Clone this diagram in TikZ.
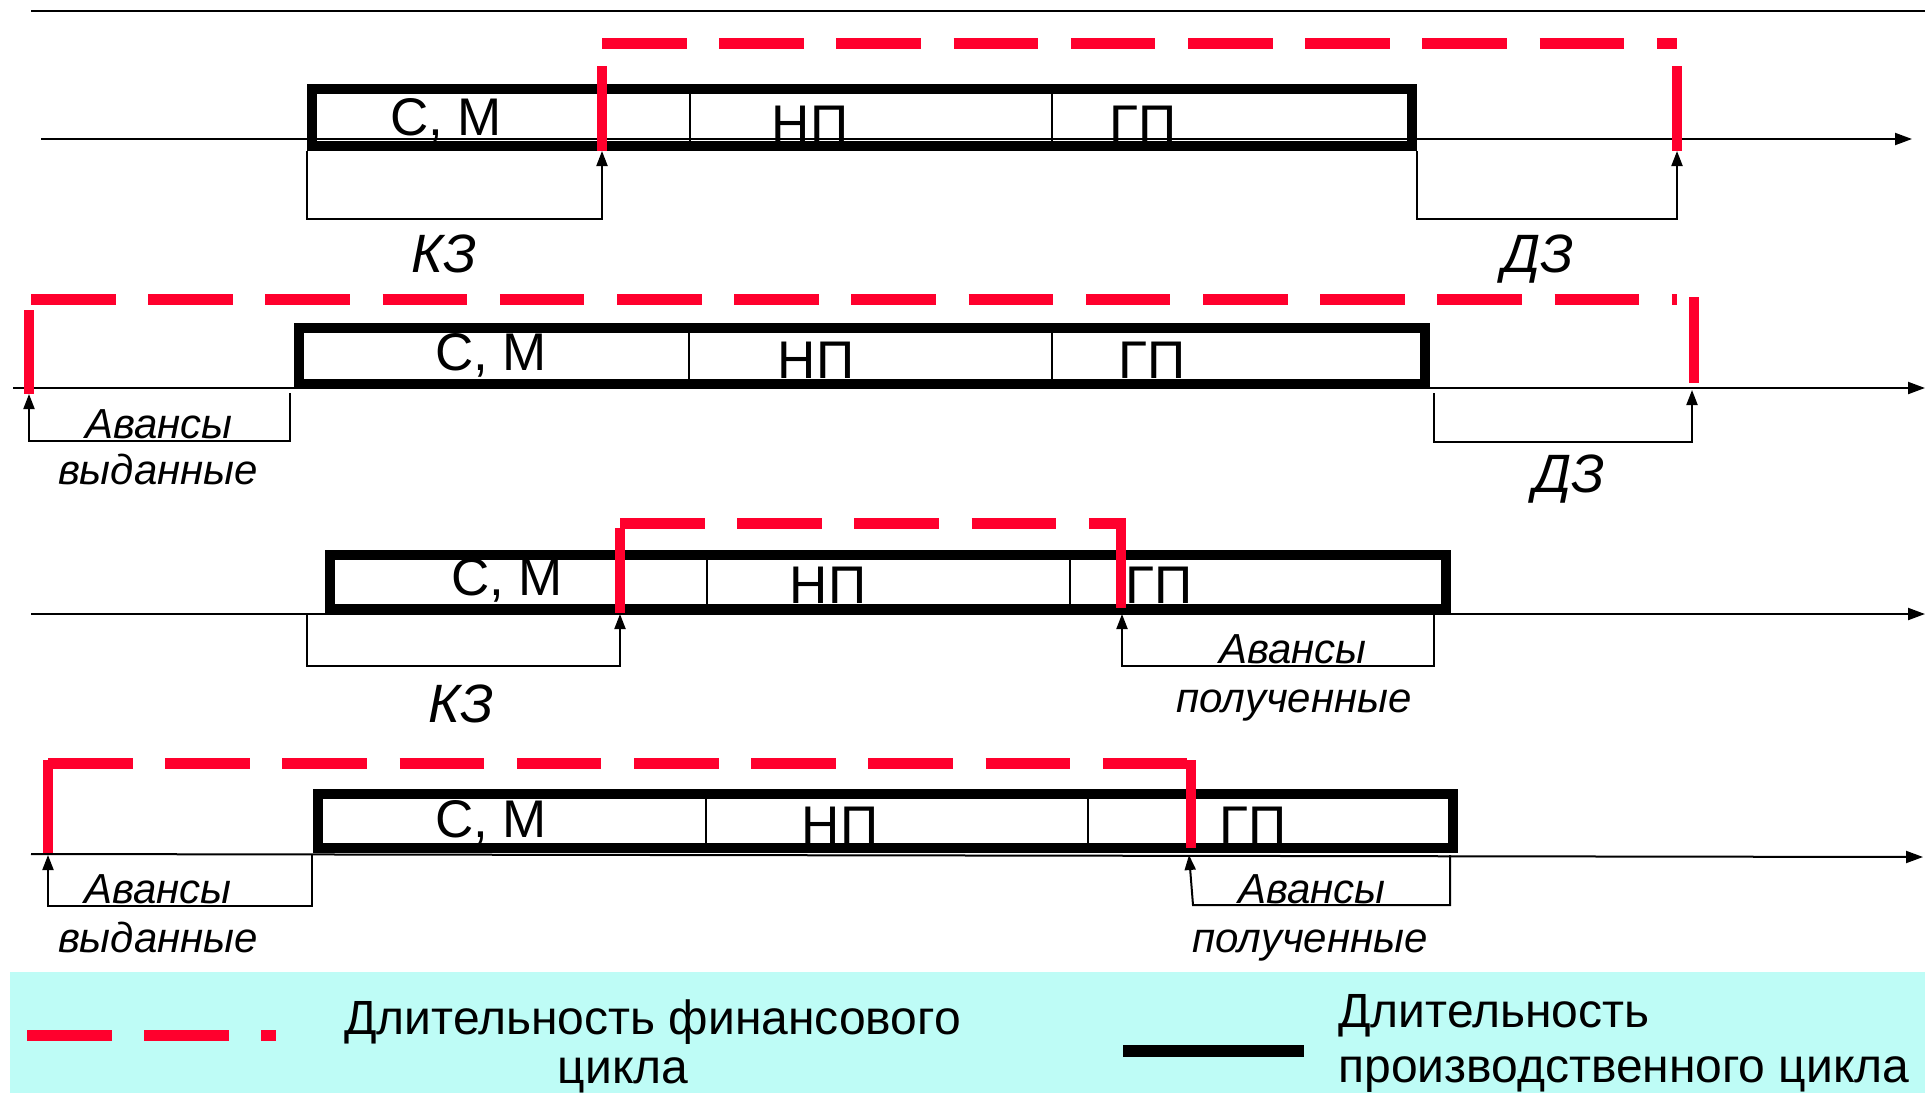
\documentclass[tikz,border=0pt]{standalone}
\usepackage{fontspec}
\setmainfont{Liberation Sans}
\usetikzlibrary{arrows.meta}
\definecolor{redfin}{RGB}{255,0,45}
\definecolor{legbg}{RGB}{190,252,246}
\begin{document}
\begin{tikzpicture}[x=0.5pt,y=-0.5pt,
  thinline/.style={line width=1pt, black},
  boxline/.style={line width=5.25pt, black},
  findash/.style={line width=5.5pt, redfin, dash pattern=on 42.25pt off 16.35pt},
  finbar/.style={line width=5pt, redfin},
  axisline/.style={thinline, -{Triangle[length=8.5pt,width=6pt]}},
  brarrow/.style={thinline, -{Triangle[length=7.5pt,width=5.5pt]}},
  lab/.style={inner sep=0pt, anchor=base, font=\fontsize{26.5}{26.5}\selectfont},
  itlab/.style={inner sep=0pt, anchor=base, font=\fontsize{27}{27}\selectfont\itshape},
  smlab/.style={inner sep=0pt, anchor=base, font=\fontsize{21}{21}\selectfont\itshape},
  legtext/.style={inner sep=0pt, anchor=base west, font=\fontsize{24}{24}\selectfont},
  legmid/.style={inner sep=0pt, anchor=base, font=\fontsize{24}{24}\selectfont},
]
\useasboundingbox (0,0) rectangle (1925,1093);

% top rule
\coordinate (topL) at (31,11);
\coordinate (topR) at (1925,11);
\draw[thinline] (topL) -- (topR);

% ================= Row 1 =================
\coordinate (a1L) at (41,139);
\coordinate (a1R) at (1912,139);
\draw[axisline] (a1L) -- (a1R);
\draw[boxline] (312,89) rectangle (1412,146);
\draw[thinline] (690,89) -- (690,146);
\draw[thinline] (1052,89) -- (1052,146);
\node[lab] (r1cm) at (446,135) {С, М};
\node[lab] (r1np) at (810,142) {НП};
\node[lab] (r1gp) at (1143,142) {ГП};
% red
\coordinate (f1a) at (602,43);
\coordinate (f1b) at (1677,43);
\draw[findash] (f1a) -- (f1b);
\draw[finbar] (602,66) -- (602,151);
\draw[finbar] (1677,66) -- (1677,151);
% brackets
\coordinate (k1a) at (307,151);
\coordinate (k1b) at (307,219);
\coordinate (k1c) at (602,219);
\coordinate (k1d) at (602,151);
\draw[brarrow] (k1a) -- (k1b) -- (k1c) -- (k1d);
\node[itlab] (r1kz) at (444,272) {КЗ};
\coordinate (d1a) at (1417,151);
\coordinate (d1b) at (1417,219);
\coordinate (d1c) at (1677,219);
\coordinate (d1d) at (1677,151);
\draw[brarrow] (d1a) -- (d1b) -- (d1c) -- (d1d);
\node[itlab] (r1dz) at (1538,272) {ДЗ};

% ================= Row 2 =================
\coordinate (a2L) at (13,388);
\coordinate (a2R) at (1925,388);
\draw[axisline] (a2L) -- (a2R);
\draw[boxline] (299,328) rectangle (1425,384);
\draw[thinline] (689,328) -- (689,384);
\draw[thinline] (1052,328) -- (1052,384);
\node[lab] (r2cm) at (491,370) {С, М};
\node[lab] (r2np) at (816,378) {НП};
\node[lab] (r2gp) at (1152,378) {ГП};
\coordinate (f2a) at (31,299);
\coordinate (f2b) at (1677,299);
\draw[findash] (f2a) -- (f2b);
\draw[finbar] (29,310) -- (29,394);
\draw[finbar] (1694,297) -- (1694,383);
\coordinate (v2a) at (290,393);
\coordinate (v2b) at (290,441);
\coordinate (v2c) at (29,441);
\coordinate (v2d) at (29,394);
\draw[brarrow] (v2a) -- (v2b) -- (v2c) -- (v2d);
\node[smlab] (r2av) at (159,438) {Авансы};
\node[smlab] (r2vy) at (158,484) {выданные};
\coordinate (d2a) at (1434,393);
\coordinate (d2b) at (1434,442);
\coordinate (d2c) at (1692,442);
\coordinate (d2d) at (1692,390);
\draw[brarrow] (d2a) -- (d2b) -- (d2c) -- (d2d);
\node[itlab] (r2dz) at (1569,492) {ДЗ};

% ================= Row 3 =================
\coordinate (a3L) at (31,614);
\coordinate (a3R) at (1925,614);
\draw[axisline] (a3L) -- (a3R);
\draw[boxline] (330,555) rectangle (1446,609);
\draw[thinline] (707,555) -- (707,609);
\draw[thinline] (1070,555) -- (1070,609);
\node[lab] (r3cm) at (507,595) {С, М};
\node[lab] (r3np) at (828,603) {НП};
\node[lab] (r3gp) at (1159,603) {ГП};
\coordinate (f3a) at (620,523);
\coordinate (f3b) at (1123,523);
\draw[findash] (f3a) -- (f3b);
\draw[finbar] (1121,518) -- (1121,608);
\draw[finbar] (620,528) -- (620,613);
\coordinate (k3a) at (307,614);
\coordinate (k3b) at (307,666);
\coordinate (k3c) at (620,666);
\coordinate (k3d) at (620,614);
\draw[brarrow] (k3a) -- (k3b) -- (k3c) -- (k3d);
\node[itlab] (r3kz) at (461,722) {КЗ};
\coordinate (p3a) at (1434,615);
\coordinate (p3b) at (1434,666);
\coordinate (p3c) at (1122,666);
\coordinate (p3d) at (1122,614);
\draw[brarrow] (p3a) -- (p3b) -- (p3c) -- (p3d);
\node[smlab] (r3av) at (1293,663) {Авансы};
\node[smlab] (r3po) at (1294,712) {полученные};

% ================= Row 4 =================
\coordinate (a4L) at (31,854);
\coordinate (a4R) at (1923,857);
\draw[axisline] (a4L) -- (a4R);
\draw[boxline] (318,794) rectangle (1453,848);
\draw[thinline] (706,794) -- (706,848);
\draw[thinline] (1088,794) -- (1088,848);
\node[lab] (r4cm) at (491,837) {С, М};
\node[lab] (r4np) at (840,843) {НП};
\node[lab] (r4gp) at (1253,843) {ГП};
\coordinate (f4a) at (48,763);
\coordinate (f4b) at (1191,763);
\draw[findash] (f4a) -- (f4b);
\draw[finbar] (48,760.3) -- (48,853);
\draw[finbar] (1191,760.3) -- (1191,848);
\coordinate (v4a) at (312,854);
\coordinate (v4b) at (312,906);
\coordinate (v4c) at (48,906);
\coordinate (v4d) at (48,855);
\draw[brarrow] (v4a) -- (v4b) -- (v4c) -- (v4d);
\node[smlab] (r4av) at (158,903) {Авансы};
\node[smlab] (r4vy) at (158,952) {выданные};
\coordinate (p4a) at (1450,855);
\coordinate (p4b) at (1450,905);
\coordinate (p4c) at (1193,905);
\coordinate (p4d) at (1189,855);
\draw[brarrow] (p4a) -- (p4b) -- (p4c) -- (p4d);
\node[smlab] (r4av2) at (1312,903) {Авансы};
\node[smlab] (r4po) at (1310,952) {полученные};

% ================= Legend =================
\fill[legbg] (10,972) rectangle (1925,1093);
\coordinate (lg1a) at (27,1035);
\coordinate (lg1b) at (276,1035);
\draw[findash] (lg1a) -- (lg1b);
\node[legtext] (lt1) at (344,1034) {Длительность финансового};
\node[legmid] (lt2) at (623,1083) {цикла};
\coordinate (lg2a) at (1123,1051);
\coordinate (lg2b) at (1304,1051);
\draw[line width=6pt, black] (lg2a) -- (lg2b);
\node[legtext] (lt3) at (1338,1027) {Длительность};
\node[legtext] (lt4) at (1338,1082) {производственного цикла};
\end{tikzpicture}
\end{document}
